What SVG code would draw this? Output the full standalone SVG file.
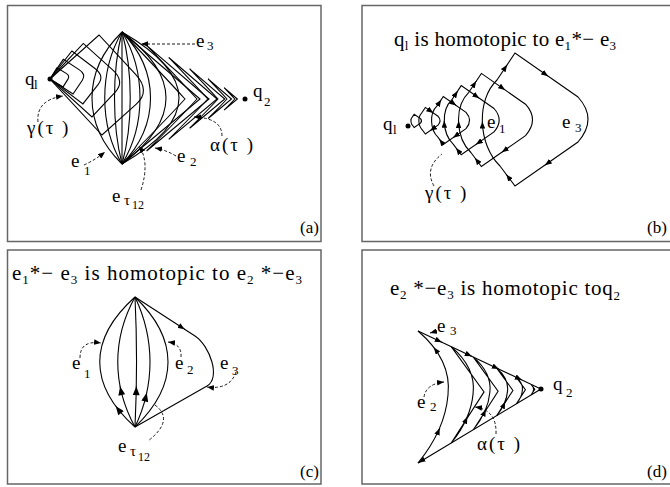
<svg xmlns="http://www.w3.org/2000/svg" xmlns:xlink="http://www.w3.org/1999/xlink" width="670" height="487" viewBox="0 0 670 487">
<style>
.fr{fill:#fff;stroke:#666;stroke-width:1.5}
.ln{fill:none;stroke:#000;stroke-width:1.1}
.ns{vector-effect:non-scaling-stroke}
.ds{fill:none;stroke:#000;stroke-width:0.9;stroke-dasharray:3 2}
.ar{fill:none;stroke:#000;stroke-width:1}
.t{font-family:"Liberation Serif","Times New Roman",serif;font-size:19px;fill:#000}
.tt{font-size:21px}
.s{font-size:13px}
.pl{font-size:17px}
.gk{letter-spacing:2px}
.dot{fill:#000}
</style>
<defs>
<marker id="ah" viewBox="0 0 10 8" refX="10" refY="4" markerWidth="7" markerHeight="5.6" markerUnits="userSpaceOnUse" orient="auto"><path d="M0,0 L10,4 L0,8 z"/></marker>
<marker id="ahL" viewBox="0 0 10 8" refX="10" refY="4" markerWidth="10" markerHeight="7" markerUnits="userSpaceOnUse" orient="auto"><path d="M0,0 L10,4 L0,8 z"/></marker>
<path id="sqA" class="ln ns" d="M0,0 L49,-44 L85.4,-4.8 Q101,12 86.3,25.2 L52,56 Z"/>
<path id="chA" class="ln ns" d="M-123,-67 L-45,0 L-123,65 M-123,-67 Q-82,-24 -60,0 Q-82,24 -123,65"/>
<path id="chD" class="ln ns" d="M-123,-58 Q-89,-29 -93,6 Q-96,41 -123,74 M-123,-58 L-78,4 L-123,74"/>
</defs>
<rect width="670" height="487" fill="#fff"/>

<!-- Panel (a) -->
<g id="panel-a">
<rect class="fr" x="7.5" y="5.5" width="313.5" height="236"/>
<g id="a-gamma">
<use xlink:href="#sqA" transform="translate(50,79)"/>
<use xlink:href="#sqA" transform="translate(50,79) rotate(-5) scale(0.74)"/>
<use xlink:href="#sqA" transform="translate(50,79) rotate(-10) scale(0.54)"/>
<use xlink:href="#sqA" transform="translate(50,79) rotate(-14) scale(0.36)"/>
<use xlink:href="#sqA" transform="translate(50,79) rotate(-16) scale(0.2)"/>
</g>
<g id="a-lens">
<path class="ln" d="M122,164 C82,125 82,71 122,32"/>
<path class="ln" d="M122,164 C99,125 99,71 122,32"/>
<path class="ln" d="M122,164 C112,125 112,71 122,32"/>
<path class="ln" d="M122,164 L122,32"/>
<path class="ln" d="M122,164 C133,125 133,71 122,32"/>
<path class="ln" d="M122,164 C146,125 146,71 122,32"/>
<path class="ln" d="M122,164 C160,125 160,71 122,32"/>
<path class="ln" d="M122,164 Q210,98 122,32"/>
<path class="ln" d="M122,164 Q236,98 122,32"/>
</g>
<g id="a-alpha">
<use xlink:href="#chA" transform="translate(245,99)"/>
<use xlink:href="#chA" transform="translate(245,99) scale(0.8)"/>
<use xlink:href="#chA" transform="translate(245,99) scale(0.62)"/>
<use xlink:href="#chA" transform="translate(245,99) scale(0.45)"/>
<use xlink:href="#chA" transform="translate(245,99) scale(0.3)"/>
<use xlink:href="#chA" transform="translate(245,99) scale(0.17)"/>
</g>
<circle class="dot" cx="50" cy="79" r="2.5"/>
<circle class="dot" cx="245" cy="99" r="2.5"/>
<g id="a-labels">
<text class="t" x="25" y="85">q</text><text class="t s" x="34" y="89">l</text>
<text class="t" x="253" y="97">q</text><text class="t s" x="264" y="106">2</text>
<text class="t" x="196" y="47">e</text><text class="t s" x="207" y="50">3</text>
<text class="t gk" x="27" y="134">γ(τ )</text>
<text class="t" x="71" y="167">e</text><text class="t s" x="84" y="175">1</text>
<text class="t" x="112" y="202">e</text><text class="t" style="font-size:15px" x="124" y="205">τ</text><text class="t" style="font-size:12px" x="132" y="209">12</text>
<text class="t" x="177" y="162">e</text><text class="t s" x="190" y="166">2</text>
<text class="t gk" x="210" y="151">α(τ )</text>
<text class="t pl" x="300" y="233">(a)</text>
</g>
</g>

<!-- Panel (b) -->
<g id="panel-b">
<rect class="fr" x="362" y="5.5" width="310" height="236"/>
<g id="b-loops">
<path class="ln" d="M497,80 L515,53 L578,97 Q598,119 578,142 L515,186 L500,166 C478,145 476,100 497,80 Z"/>
<path class="ln" d="M468.8,92.3 L481.4,73.4 L525.5,104.2 Q539.5,119.6 525.5,135.7 L481.4,166.5 L470.9,152.5 C455.5,137.8 454.1,106.3 468.8,92.3 Z"/>
<path class="ln" d="M451.9,99.7 L461.2,85.6 L494,108.5 Q504.4,120 494,131.9 L461.2,154.8 L453.4,144.4 C442,133.5 441,110.1 451.9,99.7 Z"/>
<path class="ln" d="M436.8,106.2 L443.3,96.5 L466,112.4 Q473.2,120.3 466,128.6 L443.3,144.4 L437.9,137.2 C430,129.6 429.3,113.4 436.8,106.2 Z"/>
<path class="ln" d="M421.8,112.8 L425.4,107.4 L438,116.2 Q442,120.6 438,125.2 L425.4,134 L422.4,130 C418,125.8 417.6,116.8 421.8,112.8 Z"/>
<path class="ln" d="M412.4,116.9 L414.2,114.2 L420.5,118.6 Q422.5,120.8 420.5,123.1 L414.2,127.5 L412.7,125.5 C410.5,123.4 410.3,118.9 412.4,116.9 Z"/>
</g>
<g id="b-arrows" class="ar">
<path d="M506,66.5 l1.1,-1.66" marker-end="url(#ah)"/>
<path d="M546.5,75 l1.64,1.14" marker-end="url(#ah)"/>
<path d="M546.5,164 l-1.64,1.14" marker-end="url(#ah)"/>
<path d="M507.5,176 l-1.2,-1.6" marker-end="url(#ah)"/>
<path d="M482.4,123.6 l0,-2" marker-end="url(#ah)"/>
<path d="M475.1,82.8 l1.1,-1.66" marker-end="url(#ah)"/>
<path d="M503.5,88.8 l1.64,1.14" marker-end="url(#ah)"/>
<path d="M503.5,151.1 l-1.64,1.14" marker-end="url(#ah)"/>
<path d="M476.2,159.5 l-1.2,-1.6" marker-end="url(#ah)"/>
<path d="M458.6,123.1 l0,-2" marker-end="url(#ah)"/>
<path d="M456.6,92.7 l1.1,-1.66" marker-end="url(#ah)"/>
<path d="M477.6,97.1 l1.64,1.14" marker-end="url(#ah)"/>
<path d="M477.6,143.4 l-1.64,1.14" marker-end="url(#ah)"/>
<path d="M457.3,149.6 l-1.2,-1.6" marker-end="url(#ah)"/>
<path d="M444.3,122.8 l0,-2" marker-end="url(#ah)"/>
<path d="M440.1,101.4 l1.1,-1.66" marker-end="url(#ah)"/>
<path d="M454.7,104.4 l1.64,1.14" marker-end="url(#ah)"/>
<path d="M454.7,136.5 l-1.64,1.14" marker-end="url(#ah)"/>
<path d="M440.6,140.8 l-1.2,-1.6" marker-end="url(#ah)"/>
<path d="M431.7,111.8 l1.64,1.14" marker-end="url(#ah)"/>
<path d="M431.7,129.6 l-1.64,1.14" marker-end="url(#ah)"/>
</g>
<circle class="dot" cx="408" cy="126" r="2.5"/>
<g id="b-labels">
<text class="t tt" x="394" y="46" textLength="222" lengthAdjust="spacing">q<tspan class="s" dy="4">l</tspan><tspan dy="-4"> is homotopic to e</tspan><tspan class="s" dy="4">1</tspan><tspan dy="-4">*− e</tspan><tspan class="s" dy="4">3</tspan></text>
<text class="t" x="383" y="130">q</text><text class="t s" x="393" y="134">l</text>
<text class="t" x="487" y="128">e</text><text class="t s" x="499" y="133">1</text>
<text class="t" x="562" y="128">e</text><text class="t s" x="575" y="132">3</text>
<text class="t gk" x="425" y="199">γ(τ )</text>
<text class="t pl" x="647" y="233">(b)</text>
</g>
</g>

<!-- Panel (c) -->
<g id="panel-c">
<rect class="fr" x="7.5" y="250" width="313.5" height="234"/>
<g id="c-curves">
<path class="ln" d="M135,427 C88,385 88,339 135,297"/>
<path class="ln" d="M135,427 C112,385 112,339 135,297"/>
<path class="ln" d="M135,427 C137,385 137,339 135,297"/>
<path class="ln" d="M135,427 C155,385 155,339 135,297"/>
<path class="ln" d="M135,427 C179,385 179,339 135,297"/>
<path class="ln" d="M135,297 L195,336 C210,346 221,378 207,386 L135,427"/>
</g>
<g id="c-arrows" class="ar">
<path d="M120.5,388.4 l-0.4,-2" marker-end="url(#ahL)"/>
<path d="M136.3,388.4 l0.04,-2" marker-end="url(#ahL)"/>
<path d="M146.3,394.8 l0.45,-1.95" marker-end="url(#ahL)"/>
<path d="M117,407.8 l-1.2,-1.6" marker-end="url(#ahL)"/>
<path d="M183,328.2 l1.7,1.1" marker-end="url(#ah)"/>
</g>
<g id="c-labels">
<text class="t tt" x="12" y="280" textLength="290" lengthAdjust="spacing">e<tspan class="s" dy="4">1</tspan><tspan dy="-4">*− e</tspan><tspan class="s" dy="4">3</tspan><tspan dy="-4"> is homotopic to e</tspan><tspan class="s" dy="4">2</tspan><tspan dy="-4"> *−e</tspan><tspan class="s" dy="4">3</tspan></text>
<text class="t" x="72" y="369">e</text><text class="t s" x="84" y="378">1</text>
<text class="t" x="175" y="369">e</text><text class="t s" x="187" y="374">2</text>
<text class="t" x="220" y="369">e</text><text class="t s" x="232" y="375">3</text>
<text class="t" x="118" y="452">e</text><text class="t" style="font-size:15px" x="130" y="456">τ</text><text class="t" style="font-size:12px" x="138" y="461">12</text>
<text class="t pl" x="300" y="477">(c)</text>
</g>
</g>

<!-- Panel (d) -->
<g id="panel-d">
<rect class="fr" x="362" y="250" width="310" height="234"/>
<g id="d-curves">
<path class="ln" d="M418,331 L541,389 L418,463"/>
<path class="ln" d="M418,331 Q452,360 448,395 Q445,430 418,463"/>
<use xlink:href="#chD" transform="translate(541,389) scale(0.73)"/>
<use xlink:href="#chD" transform="translate(541,389) scale(0.55)"/>
<use xlink:href="#chD" transform="translate(541,389) scale(0.36)"/>
<use xlink:href="#chD" transform="translate(541,389) scale(0.2)"/>
<use xlink:href="#chD" transform="translate(541,389) scale(0.08)"/>
</g>
<g id="d-arrows" class="ar">
<path d="M435,349 l-1.2,-1.6" marker-end="url(#ah)"/>
<path d="M439,430 l0.8,-1.8" marker-end="url(#ah)"/>
<path d="M440,341.4 l1.8,0.85" marker-end="url(#ah)"/>
<path d="M470,355.5 l1.8,0.85" marker-end="url(#ah)"/>
<path d="M497,368.2 l1.8,0.85" marker-end="url(#ah)"/>
<path d="M520,379.1 l1.8,0.85" marker-end="url(#ah)"/>
<path d="M466.5,418.6 l0.8,-1.8" marker-end="url(#ah)"/>
<path d="M484.9,411.3 l0.8,-1.8" marker-end="url(#ah)"/>
<path d="M504.3,403.6 l0.8,-1.8" marker-end="url(#ah)"/>
<path d="M421,461.2 l-2.4,1.5" marker-end="url(#ah)"/>
</g>
<circle class="dot" cx="541" cy="389" r="2.5"/>
<g id="d-labels">
<text class="t tt" x="390" y="295" textLength="230" lengthAdjust="spacing">e<tspan class="s" dy="4">2</tspan><tspan dy="-4"> *−e</tspan><tspan class="s" dy="4">3</tspan><tspan dy="-4"> is homotopic toq</tspan><tspan class="s" dy="5">2</tspan></text>
<text class="t" x="437" y="332">e</text><text class="t s" x="450" y="335">3</text>
<text class="t" x="417" y="408">e</text><text class="t s" x="430" y="411">2</text>
<text class="t gk" x="477" y="450">α(τ )</text>
<text class="t" x="553" y="390">q</text><text class="t s" x="566" y="397">2</text>
<text class="t pl" x="647" y="477">(d)</text>
</g>
</g>

<!-- Dashed label pointers -->
<g id="connectors" class="ds">
<path d="M195,44 L141,44" marker-end="url(#ah)"/>
<path d="M38,122 Q36,100 63,96" marker-end="url(#ah)"/>
<path d="M84,165 Q95,160 105,152" marker-end="url(#ah)"/>
<path d="M141,190 Q150,162 139,146" marker-end="url(#ah)"/>
<path d="M176,156 Q166,150 155,148" marker-end="url(#ah)"/>
<path d="M222,136 Q222,118 194,117" marker-end="url(#ah)"/>
<path d="M434,186 Q424,168 442,154"/>
<path d="M80,358 Q80,340 101,343" marker-end="url(#ah)"/>
<path d="M181,357 Q182,344 168,342" marker-end="url(#ah)"/>
<path d="M236,372 Q230,390 207,387" marker-end="url(#ah)"/>
<path d="M155,405 Q175,420 148,441"/>
<path d="M437,331 L430,333" marker-end="url(#ah)"/>
<path d="M424,397 Q426,384 444,382" marker-end="url(#ah)"/>
<path d="M496,434 Q497,410 475,407" marker-end="url(#ah)"/>
</g>
</svg>
